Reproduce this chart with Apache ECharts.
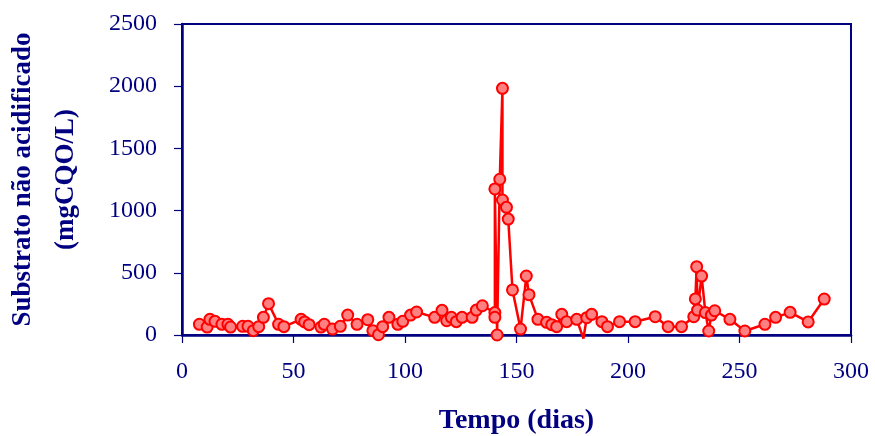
<!DOCTYPE html>
<html>
<head>
<meta charset="utf-8">
<script src="https://cdn.jsdelivr.net/npm/echarts@6/dist/echarts.min.js"></script>
<style>
html,body{margin:0;padding:0;background:#fff;}
#c{width:875px;height:436px;}
</style>
</head>
<body>
<div id="c"></div>
<script>
// Data
var days = [7.8, 11.3, 12.5, 14.8, 17.9, 20.6, 21.8, 27.2, 29.6, 32, 34.4, 36.5, 38.8, 43.3, 45.7,
  53.4, 55, 57, 62.3, 63.8, 67.5, 71, 74.3, 78.5, 83.3, 85.6, 88.1, 90, 92.8, 96.8, 99, 102.5, 105.2,
  113.3, 116.6, 118.7, 120.8, 123, 125.6, 130.1, 132, 134.7, 140.3, 140.3, 140.3, 141.3, 142.5, 143.7,
  143.7, 145.5, 146.3, 148.2, 151.8, 154.4, 155.6, 159.6, 163.5, 165.8, 168, 170.3, 172.5, 177, 180,
  181.5, 183.7, 188.3, 190.8, 196.2, 203.2, 212.2, 218, 224, 229.5, 230.2, 230.8, 231.2, 233, 234.7,
  236.2, 237.4, 238.9, 245.7, 252.4, 261.4, 266.2, 272.7, 280.8, 288];
var substrato = [86, 64, 126, 110, 86, 86, 64, 70, 70, 35, 67, 142, 252, 86, 67,
  126, 105, 83, 64, 86, 48, 70, 160, 86, 123, 35, 2, 67, 142, 86, 110, 160, 185,
  142, 198, 115, 142, 107, 142, 142, 200, 235, 180, 142, 1174, 0, 1252, 1983,
  1085, 1026, 932, 362, 48, 474, 324, 126, 102, 83, 67, 166, 107, 126, -28,
  139, 166, 107, 67, 107, 107, 147, 67, 67, 147, 290, 549, 200, 474, 180,
  32, 160, 195, 126, 32, 86, 142, 182, 105, 289];
var xTicks = {min: 0, max: 300, step: 50};
var yTicks = {min: 0, max: 2500, step: 500};
var xTitle = 'Tempo (dias)';
var yTitle = 'Substrato não acidificado\n(mgCQO/L)';

var navy = '#000080';
var seriesData = days.map(function (d, i) {
  var v = substrato[i];
  var item = {value: [d, v]};
  if (v < 0) { item.symbol = 'none'; }
  return item;
});
function plain(v) { return String(v); }

var chart = echarts.init(document.getElementById('c'), null, {renderer: 'canvas'});
chart.setOption({
  animation: false,
  backgroundColor: '#ffffff',
  grid: {left: 182, right: 24, top: 24, bottom: 101, show: true, borderColor: navy, borderWidth: 2,
         containLabel: false, outerBoundsMode: 'none'},
  xAxis: {
    type: 'value', min: xTicks.min, max: xTicks.max, interval: xTicks.step,
    name: xTitle, nameLocation: 'middle', nameGap: 72,
    nameTextStyle: {fontFamily: 'Liberation Serif', fontWeight: 'bold', fontSize: 28, color: navy},
    axisLine: {show: true, lineStyle: {color: navy, width: 2.5}},
    axisTick: {show: true, inside: false, length: 8, lineStyle: {color: navy, width: 1.2}},
    axisLabel: {margin: 25, fontFamily: 'Liberation Serif', fontSize: 24, color: navy, formatter: plain},
    splitLine: {show: false}
  },
  yAxis: {
    type: 'value', min: yTicks.min, max: yTicks.max, interval: yTicks.step,
    name: yTitle, nameLocation: 'middle', nameGap: 94, nameRotate: 90,
    nameTextStyle: {fontFamily: 'Liberation Serif', fontWeight: 'bold', fontSize: 27, color: navy, lineHeight: 43},
    axisLine: {show: true, lineStyle: {color: navy, width: 2.5}},
    axisTick: {show: true, inside: false, length: 8, lineStyle: {color: navy, width: 1.2}},
    axisLabel: {margin: 25, fontFamily: 'Liberation Serif', fontSize: 24, color: navy, formatter: plain},
    splitLine: {show: false}
  },
  series: [{
    type: 'line',
    data: seriesData,
    clip: false,
    showAllSymbol: true,
    symbol: 'circle',
    symbolSize: 11,
    lineStyle: {color: '#ff0000', width: 2.5},
    itemStyle: {color: '#ff8080', borderColor: '#ff0000', borderWidth: 2}
  }]
});
</script>
</body>
</html>
